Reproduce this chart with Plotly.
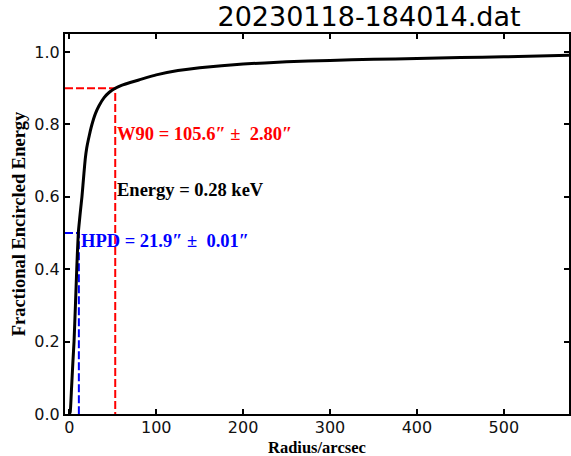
import plotly.graph_objects as go

# Encircled energy curve
radius = [0, 1, 2.5, 4, 5.4, 7, 8.5, 10.3, 12.9, 14.5, 16.8, 18.3, 20, 21.8, 24, 26, 30, 34, 40, 46,
          52.8, 60, 70, 80, 100, 125, 150, 200, 250, 300, 350, 400, 450, 500, 575]
frac = [0, 0.005, 0.07, 0.14, 0.2, 0.3, 0.4, 0.5, 0.564, 0.6, 0.665, 0.705, 0.735, 0.757, 0.781, 0.8,
        0.830, 0.851, 0.874, 0.889, 0.9, 0.908, 0.916, 0.923, 0.937, 0.949, 0.957, 0.967, 0.973,
        0.977, 0.980, 0.982, 0.985, 0.987, 0.991]

hpd = 21.9
hpd_err = 0.01
w90 = 105.6
w90_err = 2.80
energy = 0.28
title = "20230118-184014.dat"

x_ticks = [0, 100, 200, 300, 400, 500]
y_ticks = [0.0, 0.2, 0.4, 0.6, 0.8, 1.0]
x_range = [-5, 575]
y_range = [0, 1.05]

serif = "Liberation Serif"
sans = "DejaVu Sans"
dash = "8px,3px"
lab_size = 18.5

fig = go.Figure()
# W90 guide lines
fig.add_trace(go.Scatter(x=[x_range[0], w90 / 2, w90 / 2], y=[0.9, 0.9, 0], mode="lines",
                         line=dict(color="red", width=2, dash=dash), showlegend=False))
# HPD guide lines
fig.add_trace(go.Scatter(x=[x_range[0], hpd / 2, hpd / 2], y=[0.5, 0.5, 0], mode="lines",
                         line=dict(color="blue", width=2, dash=dash), showlegend=False))
# curve above guides
fig.add_trace(go.Scatter(x=radius, y=frac, mode="lines",
                         line=dict(color="black", width=3, shape="spline", smoothing=0.4),
                         showlegend=False, hoverinfo="skip"))

fig.add_annotation(x=w90 / 2, y=0.773, xref="x", yref="y", xanchor="left", yanchor="middle",
                   text="<b>W90 = %.1f″ ±  %.2f″</b>" % (w90, w90_err), showarrow=False,
                   font=dict(family=serif, size=lab_size, color="red"))
fig.add_annotation(x=w90 / 2, y=0.619, xref="x", yref="y", xanchor="left", yanchor="middle",
                   text="<b>Energy = %.2f keV</b>" % energy, showarrow=False,
                   font=dict(family=serif, size=lab_size, color="black"))
fig.add_annotation(x=hpd / 2, y=0.478, xref="x", yref="y", xanchor="left", yanchor="middle",
                   text="<b>HPD = %.1f″ ±  %.2f″</b>" % (hpd, hpd_err), showarrow=False,
                   font=dict(family=serif, size=lab_size, color="blue"))
# x axis title
fig.add_annotation(x=(318 - 65) / 506, y=-(447.2 - 414) / 380, xref="paper", yref="paper",
                   xanchor="center", yanchor="middle", showarrow=False, borderpad=0,
                   text="<b>Radius/arcsec</b>", font=dict(family=serif, size=16.5, color="black"))

axis_common = dict(showgrid=False, zeroline=False, showline=True, linecolor="black", linewidth=2,
                   ticks="inside", ticklen=5, tickwidth=1.5, tickcolor="black", mirror="ticks",
                   tickfont=dict(family=sans, size=16, color="#111"))

fig.update_layout(
    width=571, height=456,
    margin=dict(l=65, r=0, t=34, b=42),
    plot_bgcolor="white", paper_bgcolor="white",
    title=dict(text=title, x=369 / 571, xanchor="center", y=1 - 17 / 456, yanchor="middle",
               font=dict(family=sans, size=27, color="black")),
    xaxis=dict(range=x_range, tickvals=x_ticks, ticktext=[str(v) for v in x_ticks], ticklabelstandoff=-2,
               **axis_common),
    yaxis=dict(range=y_range, tickvals=y_ticks, ticktext=["%.1f" % v for v in y_ticks], **axis_common,
               title=dict(text="<b>Fractional Encircled Energy</b>", font=dict(family=serif, size=lab_size, color="black"), standoff=4)),
)

fig.write_html("out.html")
